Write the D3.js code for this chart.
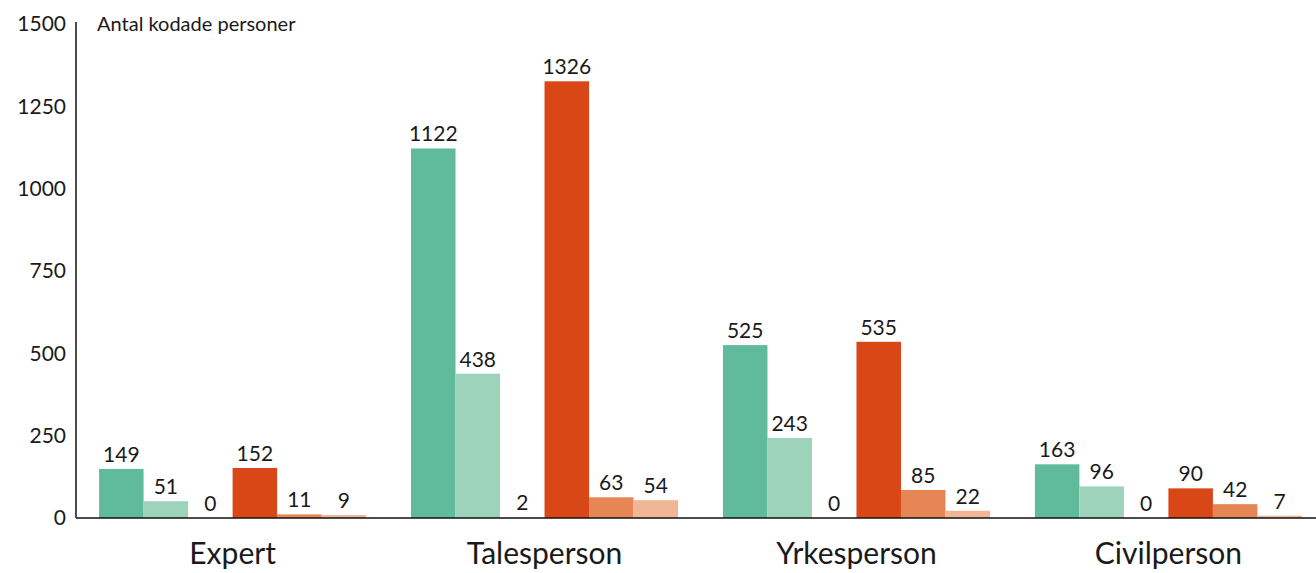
<!DOCTYPE html>
<html>
<head>
<meta charset="utf-8">
<script src="https://cdn.jsdelivr.net/npm/d3@7"></script>
<style>
  body { margin: 0; background: #fff; }
  svg { display: block; font-family: Lato, 'Open Sans', sans-serif; }
</style>
</head>
<body>
<svg class="chart-svg" width="1316" height="573"></svg>
<script>
// categories and series
const groups = ['Expert', 'Talesperson', 'Yrkesperson', 'Civilperson']
const series = ['s1', 's2', 's3', 's4', 's5', 's6']
const colors = ['#5fbb9c', '#9dd3bb', '#cfeadd', '#d94716', '#e68655', '#f0b696']

// values per series, in group order
const s1 = [149, 1122, 525, 163]
const s2 = [51, 438, 243, 96]
const s3 = [0, 2, 0, 0]
const s4 = [152, 1326, 535, 90]
const s5 = [11, 63, 85, 42]
const s6 = [9, 54, 22, 7]

const yTicks = [0, 250, 500, 750, 1000, 1250, 1500]
const yTitle = 'Antal kodade personer'

const values = [s1, s2, s3, s4, s5, s6]
const data = []
groups.forEach((g, gi) => {
  series.forEach((s, si) => {
    data.push({ group: g, series: s, value: values[si][gi], color: colors[si] })
  })
})

const svg = d3.select('.chart-svg')
const axisX = 76
const baseY = 518

const xScale = d3.scaleBand()
  .domain(groups)
  .range([axisX, 1325])
  .paddingInner(0.144)
  .paddingOuter(0.074)

const xInner = d3.scaleBand()
  .domain(series)
  .range([0, xScale.bandwidth()])

const yScale = d3.scaleLinear()
  .domain([0, 1500])
  .range([baseY, 24])

// bars
const g = svg.selectAll('.group')
  .data(groups)
  .enter()
  .append('g')
  .attr('class', 'group')
  .attr('transform', d => `translate(${xScale(d)},0)`)

g.selectAll('rect')
  .data(d => data.filter(e => e.group === d))
  .enter()
  .append('rect')
  .attr('x', d => xInner(d.series))
  .attr('y', d => yScale(d.value))
  .attr('width', xInner.bandwidth())
  .attr('height', d => baseY - yScale(d.value))
  .attr('fill', d => d.color)

g.selectAll('text.val')
  .data(d => data.filter(e => e.group === d))
  .enter()
  .append('text')
  .attr('class', 'val')
  .attr('x', d => xInner(d.series) + xInner.bandwidth() / 2)
  .attr('y', d => yScale(d.value) - 7)
  .attr('text-anchor', 'middle')
  .attr('font-size', 21)
  .attr('fill', '#1a1a1a')
  .text(d => d.value)

// y axis
svg.append('g')
  .attr('class', 'y axis')
  .attr('transform', `translate(${axisX},0)`)
  .call(d3.axisLeft(yScale).tickValues(yTicks).tickFormat(d3.format('d')).tickSize(0).tickPadding(10))
  .call(a => a.select('.domain').attr('d', `M0,${yScale(1500) - 2}V${baseY}`).attr('stroke', '#111').attr('stroke-width', 1.5))
  .call(a => a.selectAll('text').attr('font-size', 21).attr('fill', '#1a1a1a').attr('font-family', 'Lato, sans-serif'))

// x axis baseline
svg.append('g')
  .attr('class', 'x axis')
  .attr('transform', `translate(0,${baseY})`)
  .call(d3.axisBottom(xScale).tickSize(0).tickPadding(25))
  .call(a => a.select('.domain').attr('d', `M${axisX},0H1316`).attr('stroke', '#111').attr('stroke-width', 1.5))
  .call(a => a.selectAll('text').attr('font-size', 30).attr('fill', '#1a1a1a').attr('font-family', 'Lato, sans-serif'))

svg.append('text')
  .attr('x', 97)
  .attr('y', 31)
  .attr('font-size', 20)
  .attr('fill', '#1a1a1a')
  .text(yTitle)
</script>
</body>
</html>
